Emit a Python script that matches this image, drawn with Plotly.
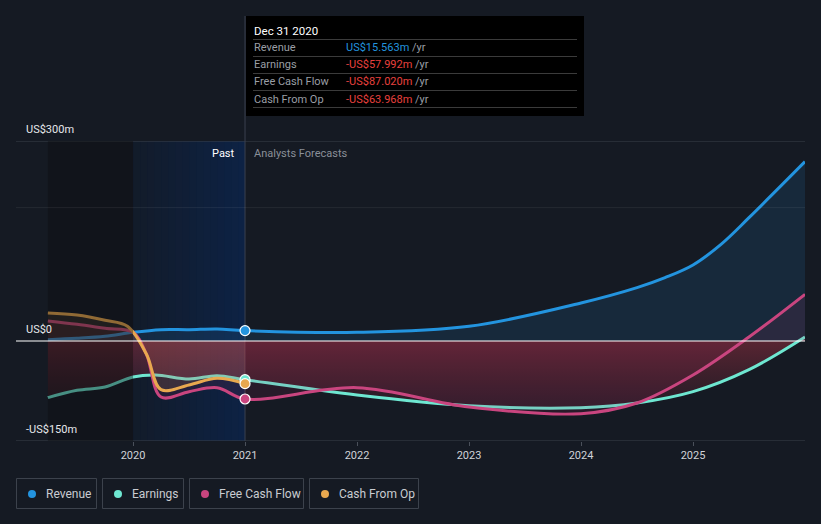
import plotly.graph_objects as go

# ---------------- data (values in US$ millions) ----------------
rev_x = [2019.24, 2019.5, 2019.75, 2020.0, 2020.25, 2020.5, 2020.75, 2021.0,
         2022.0, 2023.0, 2024.0, 2024.5, 2024.75, 2025.0, 2025.25, 2025.5, 2026.0]
rev_y = [2, 4, 7, 13, 17, 17, 18, 15.563,
         13, 22, 57, 80, 95, 114, 145, 185, 269]

earn_x = [2019.24, 2019.5, 2019.75, 2020.0, 2020.2, 2020.5, 2020.75, 2021.0,
          2022.0, 2023.0, 2024.0, 2024.5, 2025.0, 2025.5, 2026.0]
earn_y = [-85, -74, -69, -54, -51, -57, -52, -57.992,
          -81, -97, -100, -93, -76, -43, 6]

fcf_x = [2019.24, 2019.5, 2019.75, 2020.0, 2020.12, 2020.25, 2020.5, 2020.75, 2021.0,
         2022.0, 2023.0, 2024.0, 2024.5, 2025.0, 2025.5, 2026.0]
fcf_y = [30, 25, 19, 13, -20, -84, -76, -70, -87.020,
         -70, -99, -109, -93, -51, 6, 70]

cfo_x = [2019.24, 2019.5, 2019.75, 2019.95, 2020.12, 2020.25, 2020.5, 2020.75, 2021.0]
cfo_y = [42, 39, 31, 22, -20, -73, -66, -56, -63.968]

tick_vals = [2020, 2021, 2022, 2023, 2024, 2025]
tick_text = ["2020", "2021", "2022", "2023", "2024", "2025"]

names = ["Revenue", "Earnings", "Free Cash Flow", "Cash From Op"]
colors = ["#2394df", "#6ee7d1", "#c9457f", "#e8a84f"]
tip_date = "Dec 31 2020"
tip_vals = ["US$15.563m", "-US$57.992m", "-US$87.020m", "-US$63.968m"]
tip_cols = ["#2394df", "#e8413e", "#e8413e", "#e8413e"]

# ---------------- figure ----------------
W, H = 821, 524
L, R, T, B = 16, 16, 141, 83
X0, X1 = 2018.955, 2026.0
Y0, Y1 = -150, 300
BG = "#151a23"

def px(xp):
    return (xp - L) / (W - L - R)

def py(yp):
    return (H - B - yp) / (H - T - B)

fig = go.Figure()

series = [(rev_x, rev_y), (earn_x, earn_y), (fcf_x, fcf_y), (cfo_x, cfo_y)]
fills = [
    dict(fillcolor="rgba(35,148,223,0.13)"),
    dict(fillgradient=dict(type="vertical", start=-110, stop=0,
                           colorscale=[[0, "rgba(150,40,60,0.10)"], [1, "rgba(200,55,75,0.38)"]])),
    dict(fillcolor="rgba(185,45,100,0.12)"),
    dict(fillcolor="rgba(232,168,79,0.12)"),
]
for (xs, ys), nm, c, fk in zip(series, names, colors, fills):
    fig.add_trace(go.Scatter(x=xs, y=ys, name=nm, mode="lines",
                             line=dict(color=c, width=3, shape="spline", smoothing=1.0),
                             fill="tozeroy", hoverinfo="skip", showlegend=False, **fk))

# end-of-past markers
for (xs, ys), c in zip(series, colors):
    i = xs.index(2021.0)
    fig.add_trace(go.Scatter(x=[xs[i]], y=[ys[i]], mode="markers",
                             marker=dict(color=c, size=10, line=dict(color="white", width=1.2)),
                             hoverinfo="skip", showlegend=False))

shapes = []
# pre-2020 darker region (above traces to dim them)
shapes.append(dict(type="rect", xref="x", yref="paper", x0=2019.24, x1=2020.0, y0=0, y1=1,
                   fillcolor="rgba(12,12,16,0.40)", line_width=0, layer="above"))
# past highlight gradient
n = 16
for k in range(n):
    a = 0.15 + 0.45 * (k / (n - 1))
    shapes.append(dict(type="rect", xref="x", yref="paper",
                       x0=2020.0 + k / n, x1=2020.0 + (k + 1) / n, y0=0, y1=1,
                       fillcolor=f"rgba(8,40,90,{a:.3f})", line_width=0, layer="below"))
# grid lines
shapes.append(dict(type="line", xref="paper", yref="y", x0=0, x1=1, y0=300, y1=300,
                   line=dict(color="#3a404a", width=1), layer="below"))
shapes.append(dict(type="line", xref="paper", yref="y", x0=0, x1=1, y0=200, y1=200,
                   line=dict(color="rgba(255,255,255,0.07)", width=1), layer="above"))
shapes.append(dict(type="line", xref="paper", yref="y", x0=0, x1=1, y0=0, y1=0,
                   line=dict(color="#ffffff", width=1.2), layer="above"))
shapes.append(dict(type="line", xref="paper", yref="y", x0=0, x1=1, y0=-150, y1=-150,
                   line=dict(color="#3a404a", width=1), layer="below"))
# vertical "today" line
shapes.append(dict(type="line", xref="x", yref="paper", x0=2021.0, x1=2021.0,
                   y0=0, y1=py(16), line=dict(color="#3a4150", width=1), layer="below"))
# tooltip box
shapes.append(dict(type="rect", xref="paper", yref="paper", x0=px(246), x1=px(584),
                   y0=py(116), y1=py(16), fillcolor="#000000", line_width=0, layer="above"))
for yy in [39.5, 56.5, 73.5, 90.5, 107.5]:
    shapes.append(dict(type="line", xref="paper", yref="paper", x0=px(253), x1=px(577),
                       y0=py(yy), y1=py(yy), line=dict(color="#3b3b3b", width=1), layer="above"))

ann = []
FONT = "Roboto"
ann.append(dict(text=tip_date, xref="paper", yref="paper", x=px(252), y=py(31),
                xanchor="left", yanchor="middle", showarrow=False,
                font=dict(family=FONT, size=11.5, color="#ffffff")))
for i, (nm, v, vc) in enumerate(zip(names, tip_vals, tip_cols)):
    yy = 48 + 17 * i
    ann.append(dict(text=nm, xref="paper", yref="paper", x=px(252), y=py(yy),
                    xanchor="left", yanchor="middle", showarrow=False,
                    font=dict(family=FONT, size=11, color="#9a9ea5")))
    ann.append(dict(text=f"<span style='color:{vc}'>{v}</span> <span style='color:#9a9ea5'>/yr</span>",
                    xref="paper", yref="paper", x=px(344), y=py(yy),
                    xanchor="left", yanchor="middle", showarrow=False,
                    font=dict(family=FONT, size=11, color=vc)))

# y labels
for lab, yv in [("US$300m", 129), ("US$0", 329), ("-US$150m", 429)]:
    ann.append(dict(text=lab, xref="paper", yref="paper", x=px(24), y=py(yv),
                    xanchor="left", yanchor="middle", showarrow=False,
                    font=dict(family=FONT, size=11, color="#e6e8eb")))

ann.append(dict(text="Past", xref="x", yref="paper", x=2021.0, xshift=-8, y=py(153),
                xanchor="right", yanchor="middle", showarrow=False,
                font=dict(family=FONT, size=11, color="#ffffff")))
ann.append(dict(text="Analysts Forecasts", xref="x", yref="paper", x=2021.0, xshift=7, y=py(153),
                xanchor="left", yanchor="middle", showarrow=False,
                font=dict(family=FONT, size=11, color="#8a8f98")))

# legend boxes (drawn as shapes + text)
leg_box = [(16, 97), (102, 184), (189, 304), (309, 419)]
for nm, c, (bx0, bx1) in zip(names, colors, leg_box):
    shapes.append(dict(type="rect", xref="paper", yref="paper", x0=px(bx0 + 0.5), x1=px(bx1 - 0.5),
                       y0=py(508.5), y1=py(478.5), line=dict(color="#3c424c", width=1),
                       fillcolor="rgba(0,0,0,0)", layer="above"))
    cx = bx0 + 16
    shapes.append(dict(type="circle", xref="paper", yref="paper", x0=px(cx - 4), x1=px(cx + 4),
                       y0=py(498), y1=py(490), line_width=0, fillcolor=c, layer="above"))
    ann.append(dict(text=nm, xref="paper", yref="paper", x=px(bx0 + 28), y=py(494),
                    xanchor="left", yanchor="middle", showarrow=False,
                    font=dict(family=FONT, size=12, color="#c9ccd1")))

fig.update_layout(
    width=W, height=H, margin=dict(l=L, r=R, t=T, b=B),
    paper_bgcolor=BG, plot_bgcolor=BG,
    shapes=shapes, annotations=ann, showlegend=False,
    xaxis=dict(range=[X0, X1], tickvals=tick_vals, ticktext=tick_text, showgrid=False,
               zeroline=False, ticks="outside", ticklen=4, tickcolor="#4a505a",
               tickfont=dict(family=FONT, size=11, color="#d0d3d8"), showline=False,
               fixedrange=True),
    yaxis=dict(range=[Y0, Y1], showgrid=False, zeroline=False, showticklabels=False,
               fixedrange=True),
)

fig.write_html("out.html")
